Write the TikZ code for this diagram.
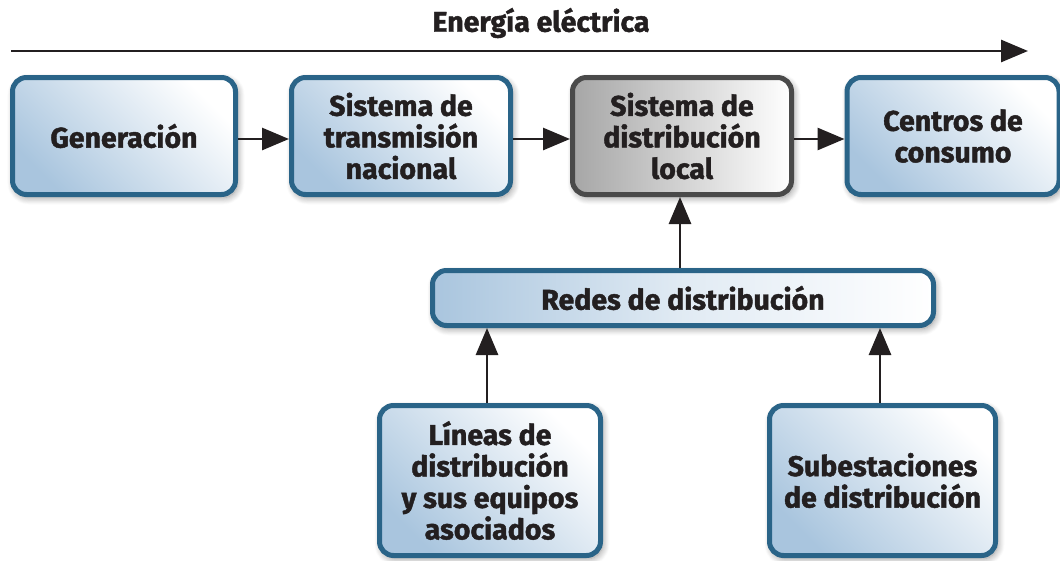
\documentclass[tikz,border=0pt]{standalone}
\usepackage{fontspec}
\setmainfont{Fira Sans}[BoldFeatures={FakeBold=1.5}]
\usetikzlibrary{arrows.meta,shadows.blur}
\definecolor{bordc}{HTML}{2A6488}
\definecolor{lblue}{HTML}{A9C5DE}
\definecolor{grayb}{HTML}{4A4A4A}
\definecolor{lgray}{HTML}{A6A6A6}
\definecolor{txt}{HTML}{231F20}
\tikzset{
  boxbase/.style={rectangle, rounded corners=14pt, line width=5pt, align=center,
    inner sep=0pt, text=txt, font=\bfseries\fontsize{28.5}{31.5}\selectfont,
    blur shadow={shadow blur steps=8, shadow xshift=2pt, shadow yshift=-3pt, shadow blur radius=7pt, shadow opacity=45}},
  bluebox/.style={boxbase, draw=bordc, top color=lblue, bottom color=white, shading angle=135},
  graybox/.style={boxbase, draw=grayb, left color=lgray, right color=white},
  barbox/.style={boxbase, draw=bordc, left color=lblue, right color=white, middle color=lblue!35},
  arr/.style={line width=2.8pt, draw=txt, -{Triangle[length=27pt,width=22pt]}}
}
\begin{document}
\begin{tikzpicture}[x=1pt,y=-1pt]
\useasboundingbox (0,0) rectangle (1060,560);
\node[font=\bfseries\fontsize{28.5}{31}\selectfont, text=txt] (title) at (541,23) {Energía eléctrica};
\coordinate (a0) at (11,51);
\coordinate (a1) at (1028,51);
\draw[arr] (a0) -- (a1);

\node[bluebox, minimum width=223pt, minimum height=117pt] (gen) at (124,136) {Generación};
\node[bluebox, minimum width=219pt, minimum height=117pt] (trans) at (401,136) {Sistema de\\transmisión\\nacional};
\node[graybox, minimum width=219pt, minimum height=117pt] (dist) at (682,136) {Sistema de\\distribución\\local};
\node[bluebox, minimum width=212pt, minimum height=117pt] (cons) at (953,136) {Centros de\\consumo};

\node[barbox, minimum width=501pt, minimum height=55pt] (redes) at (683,298) {Redes de distribución};

\node[bluebox, minimum width=221pt, minimum height=150pt] (lin) at (490,480.5) {Líneas de\\distribución\\y sus equipos\\asociados};
\node[bluebox, minimum width=226pt, minimum height=150pt] (sub) at (882.5,480.5) {Subestaciones\\de distribución};

\draw[arr] (gen.east |- 0,139) -- (trans.west |- 0,139);
\draw[arr] (trans.east |- 0,139) -- (dist.west |- 0,139);
\draw[arr] (dist.east |- 0,139) -- (cons.west |- 0,139);
\draw[arr] (redes.north -| 680,0) -- (dist.south -| 680,0);
\draw[arr] (lin.north -| 487,0) -- (redes.south -| 487,0);
\draw[arr] (sub.north -| 880,0) -- (redes.south -| 880,0);
\end{tikzpicture}
\end{document}
